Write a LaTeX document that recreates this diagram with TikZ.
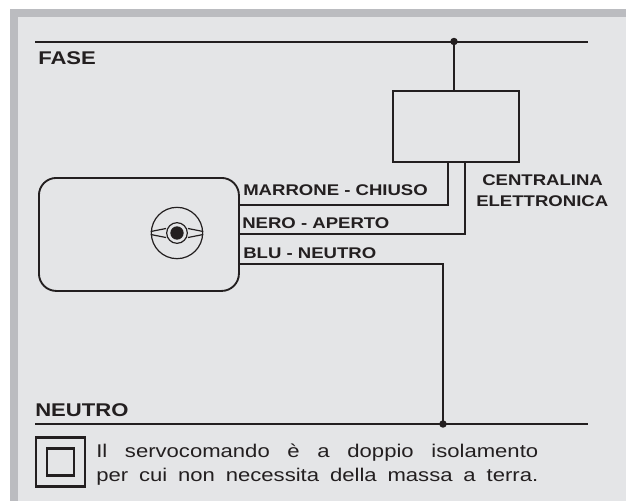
\documentclass[tikz,border=0pt]{standalone}
\usepackage{fontspec}
\setmainfont{Liberation Sans}
\newfontfamily\boldwide[FakeStretch=1.2]{Liberation Sans Bold}
\newfontfamily\regwide[FakeStretch=1.2]{Liberation Sans}
\definecolor{panel}{HTML}{E4E5E7}
\definecolor{band}{HTML}{BBBCC0}
\definecolor{ink}{HTML}{231F20}
\tikzset{
  wire/.style={draw=ink,line width=1.5pt},
  bus/.style={draw=ink,line width=1.5pt},
  lab/.style={inner sep=0pt,anchor=base west,text=ink,font=\boldwide\fontsize{11.6pt}{13pt}\selectfont},
  biglab/.style={lab,font=\boldwide\fontsize{13.8pt}{15pt}\selectfont},
  junction/.style={circle,fill=ink,inner sep=0pt,minimum size=5.6pt},
  note/.style={inner sep=0pt,anchor=base west,text=ink,font=\regwide\fontsize{13.8pt}{15pt}\selectfont}
}
\begin{document}
\begin{tikzpicture}[x=0.75pt,y=-0.75pt]
\useasboundingbox (0,0) rectangle (626,501);
\fill[white] (0,0) rectangle (626,501);
\fill[band] (10,9) rectangle (626,501);
\fill[panel] (18,17) rectangle (626,501);
% buses
\coordinate (fl) at (35,42); \coordinate (fr) at (588,42);
\coordinate (nl) at (35,424); \coordinate (nr) at (588,424);
\draw[bus] (fl) -- (fr);
\draw[bus] (nl) -- (nr);
\node[junction] (jf) at (454,41.5) {};
\node[junction] (jn) at (443,424) {};
% control box
\node[draw=ink,line width=1.15pt,minimum width=94.5pt,minimum height=53.25pt,inner sep=0pt,anchor=north west] (box) at (392,90) {};
\draw[draw=ink,line width=2.1pt] (jf.center) -- (jf.center |- box.north);
% actuator
\node[draw=ink,line width=1.4pt,rounded corners=13pt,minimum width=150pt,minimum height=84.75pt,inner sep=0pt,anchor=north west] (dev) at (38,177) {};
% wires
\coordinate (a) at (448,204.5); \coordinate (b) at (465,233.5); \coordinate (c) at (443,263.5);
\draw[wire] (a -| dev.east) -- (a) -- (a |- box.south);
\draw[wire] (b -| dev.east) -- (b) -- (b |- box.south);
\draw[wire] (c -| dev.east) -- (c) -- (jn.center);
% knob
\node[circle,draw=ink,line width=0.9pt,minimum size=38.5pt,inner sep=0pt] (knob) at (177,233) {};
\draw[ink,line width=0.9pt,line join=round] (knob.west) ++(0,-1.5) -- (166,228.5) (knob.west) ++(0,1.5) -- (166,237.5);
\draw[ink,line width=0.9pt,line join=round] (knob.east) ++(0,-1.5) -- (188,228.5) (knob.east) ++(0,1.5) -- (188,237.5);
\node[circle,draw=ink,line width=0.9pt,fill=panel,minimum size=15.5pt,inner sep=0pt] (hub) at (knob.center) {};
\node[circle,fill=ink,minimum size=10pt,inner sep=0pt] (dot) at (knob.center) {};
% labels
\node[biglab] (fase) at (38,64) {FASE};
\node[biglab] (neutro) at (35,416.5) {NEUTRO};
\node[lab] (l1) at (243,195.5) {MARRONE - CHIUSO};
\node[lab] (l2) at (242,228.5) {NERO - APERTO};
\node[lab] (l3) at (243,258.5) {BLU - NEUTRO};
\node[lab] (l4) at (482,185.5) {CENTRALINA};
\node[lab] (l5) at (476,206.5) {ELETTRONICA};
% double insulation
\node[draw=ink,line width=1.9pt,minimum width=36.5pt,minimum height=36.5pt,inner sep=0pt] (outer) at (60.5,462) {};
\node[draw=ink,line width=1.9pt,minimum width=20.5pt,minimum height=20.5pt,inner sep=0pt] (inner) at (60.5,462) {};
\node[note] (n1) at (96,457.5) {\makebox[331.5pt][s]{Il servocomando è a doppio isolamento}};
\node[note] (n2) at (96,481) {\makebox[331.5pt][s]{per cui non necessita della massa a terra.}};
\end{tikzpicture}
\end{document}
